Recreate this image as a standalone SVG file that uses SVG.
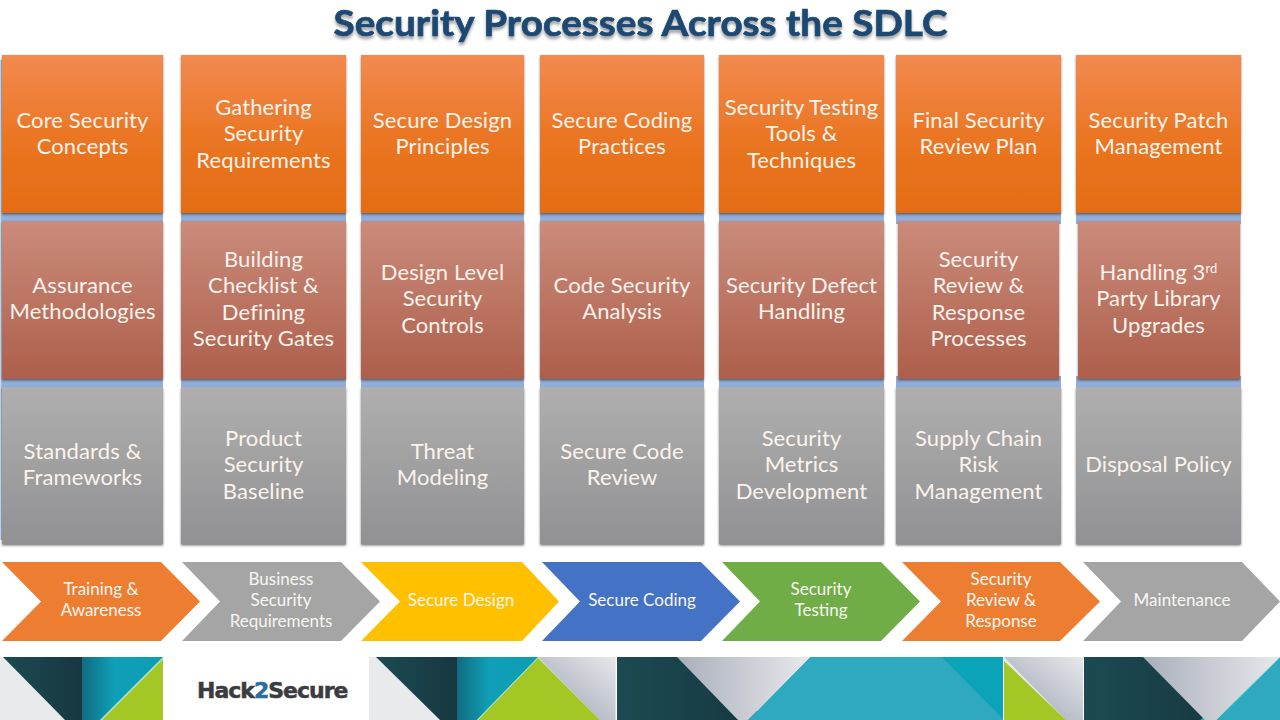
<svg xmlns="http://www.w3.org/2000/svg" width="1280" height="720" viewBox="0 0 1280 720">
<style>
text{font-family:Lato,"Open Sans",sans-serif}
.t{font-size:22px;letter-spacing:.12px;fill:#fbf3ec;text-anchor:middle}
.c{font-size:17px;fill:#f7f7f2;text-anchor:middle}
.title{font-size:36.5px;font-weight:700;fill:#1d4a73;stroke:#1d4a73;stroke-width:.7px;text-anchor:middle;filter:url(#ts)}
.o{fill:url(#go);filter:url(#bs)}.m{fill:url(#gm);filter:url(#bs)}.g{fill:url(#gg);filter:url(#bs)}
.dark{fill:url(#gd)}.teal{fill:url(#gt)}.lime{fill:#a3c724}.grey{fill:url(#gs)}.grey2{fill:url(#gs2)}.aqua{fill:#2fa9bf}.edge{stroke:#8fe0c8;stroke-width:1;fill:none}
</style>
<defs>
<linearGradient id="go" x1="0" y1="0" x2="0" y2="1"><stop offset="0" stop-color="#f28a50"/><stop offset=".55" stop-color="#ea7521"/><stop offset="1" stop-color="#e46c15"/></linearGradient>
<linearGradient id="gm" x1="0" y1="0" x2="0" y2="1"><stop offset="0" stop-color="#cb8b7b"/><stop offset="1" stop-color="#ad5f4b"/></linearGradient>
<linearGradient id="gg" x1="0" y1="0" x2="0" y2="1"><stop offset="0" stop-color="#b0afae"/><stop offset="1" stop-color="#919194"/></linearGradient>
<linearGradient id="gd" x1="0" y1="0" x2="1" y2="0"><stop offset="0" stop-color="#1c4a52"/><stop offset="1" stop-color="#173840"/></linearGradient>
<linearGradient id="gt" x1="0" y1="0" x2="1" y2="0"><stop offset="0" stop-color="#106c80"/><stop offset=".4" stop-color="#0fa0b8"/><stop offset="1" stop-color="#0d9db3"/></linearGradient>
<linearGradient id="gs" x1="0" y1="0" x2="1" y2="0"><stop offset="0" stop-color="#a9afba"/><stop offset="1" stop-color="#e8e8ec"/></linearGradient>
<linearGradient id="gs2" x1="0" y1="1" x2="1" y2="0"><stop offset=".35" stop-color="#b4b9c5"/><stop offset="1" stop-color="#e8e8ea"/></linearGradient>
<filter id="bs" x="-5%" y="-5%" width="110%" height="110%"><feDropShadow dx="0" dy="1.5" stdDeviation="1.3" flood-color="#333" flood-opacity=".65"/></filter>
<filter id="ts" x="-5%" y="-20%" width="110%" height="150%"><feDropShadow dx="0" dy="3" stdDeviation="1.5" flood-color="#555" flood-opacity=".55"/></filter>
</defs>
<rect width="1280" height="720" fill="#fff"/>
<text id="title" class="title" x="640.5" y="36" textLength="614" lengthAdjust="spacingAndGlyphs">Security Processes Across the SDLC</text>
<g id="bands" fill="#8fb0dc">
<rect x="0.5" y="60" width="2" height="480" fill="#9db6d4"/>
<rect x="2" y="210" width="161" height="14"/><rect x="181" y="210" width="165" height="14"/><rect x="361" y="210" width="163" height="14"/><rect x="540" y="210" width="164" height="14"/><rect x="719" y="210" width="165" height="14"/><rect x="896" y="210" width="165" height="14"/><rect x="1076" y="210" width="165" height="14"/>
<rect x="2" y="376" width="161" height="14"/><rect x="181" y="376" width="165" height="14"/><rect x="361" y="376" width="163" height="14"/><rect x="540" y="376" width="164" height="14"/><rect x="719" y="376" width="165" height="14"/><rect x="896" y="376" width="165" height="14"/><rect x="1076" y="376" width="165" height="14"/>
</g>
<g id="col1-top"><rect class="o" x="2" y="55" width="161" height="158"/><text class="t" x="82.500" y="128">Core Security</text><text class="t" x="82.500" y="154">Concepts</text></g>
<g id="col2-top"><rect class="o" x="181" y="55" width="165" height="158"/><text class="t" x="263.500" y="115">Gathering</text><text class="t" x="263.500" y="141">Security</text><text class="t" x="263.500" y="168">Requirements</text></g>
<g id="col3-top"><rect class="o" x="361" y="55" width="163" height="158"/><text class="t" x="442.500" y="128">Secure Design</text><text class="t" x="442.500" y="154">Principles</text></g>
<g id="col4-top"><rect class="o" x="540" y="55" width="164" height="158"/><text class="t" x="622" y="128">Secure Coding</text><text class="t" x="622" y="154">Practices</text></g>
<g id="col5-top"><rect class="o" x="719" y="55" width="165" height="158"/><text class="t" x="801.500" y="115">Security Testing</text><text class="t" x="801.500" y="141">Tools &amp;</text><text class="t" x="801.500" y="168">Techniques</text></g>
<g id="col6-top"><rect class="o" x="896" y="55" width="165" height="158"/><text class="t" x="978.500" y="128">Final Security</text><text class="t" x="978.500" y="154">Review Plan</text></g>
<g id="col7-top"><rect class="o" x="1076" y="55" width="165" height="158"/><text class="t" x="1158.500" y="128">Security Patch</text><text class="t" x="1158.500" y="154">Management</text></g>

<g id="col1-mid"><rect class="m" x="2" y="221" width="161" height="158"/><text class="t" x="82.500" y="293">Assurance</text><text class="t" x="82.500" y="319">Methodologies</text></g>
<g id="col2-mid"><rect class="m" x="181" y="221" width="165" height="158"/><text class="t" x="263.500" y="267">Building</text><text class="t" x="263.500" y="293">Checklist &amp;</text><text class="t" x="263.500" y="320">Defining</text><text class="t" x="263.500" y="346">Security Gates</text></g>
<g id="col3-mid"><rect class="m" x="361" y="221" width="163" height="158"/><text class="t" x="442.500" y="280">Design Level</text><text class="t" x="442.500" y="306">Security</text><text class="t" x="442.500" y="333">Controls</text></g>
<g id="col4-mid"><rect class="m" x="540" y="221" width="164" height="158"/><text class="t" x="622" y="293">Code Security</text><text class="t" x="622" y="319">Analysis</text></g>
<g id="col5-mid"><rect class="m" x="719" y="221" width="165" height="158"/><text class="t" x="801.500" y="293">Security Defect</text><text class="t" x="801.500" y="319">Handling</text></g>
<g id="col6-mid"><rect class="m" x="898" y="221" width="161" height="158"/><text class="t" x="978.500" y="267">Security</text><text class="t" x="978.500" y="293">Review &amp;</text><text class="t" x="978.500" y="320">Response</text><text class="t" x="978.500" y="346">Processes</text></g>
<g id="col7-mid"><rect class="m" x="1078" y="221" width="162" height="158"/><text class="t" x="1158.500" y="280">Handling 3<tspan font-size="13" dy="-7">rd</tspan></text><text class="t" x="1158.500" y="306">Party Library</text><text class="t" x="1158.500" y="333">Upgrades</text></g>

<g id="col1-low"><rect class="g" x="2" y="387" width="161" height="157"/><text class="t" x="82.500" y="459">Standards &amp;</text><text class="t" x="82.500" y="485">Frameworks</text></g>
<g id="col2-low"><rect class="g" x="181" y="387" width="165" height="157"/><text class="t" x="263.500" y="446">Product</text><text class="t" x="263.500" y="472">Security</text><text class="t" x="263.500" y="499">Baseline</text></g>
<g id="col3-low"><rect class="g" x="361" y="387" width="163" height="157"/><text class="t" x="442.500" y="459">Threat</text><text class="t" x="442.500" y="485">Modeling</text></g>
<g id="col4-low"><rect class="g" x="540" y="387" width="164" height="157"/><text class="t" x="622" y="459">Secure Code</text><text class="t" x="622" y="485">Review</text></g>
<g id="col5-low"><rect class="g" x="719" y="387" width="165" height="157"/><text class="t" x="801.500" y="446">Security</text><text class="t" x="801.500" y="472">Metrics</text><text class="t" x="801.500" y="499">Development</text></g>
<g id="col6-low"><rect class="g" x="896" y="387" width="165" height="157"/><text class="t" x="978.500" y="446">Supply Chain</text><text class="t" x="978.500" y="472">Risk</text><text class="t" x="978.500" y="499">Management</text></g>
<g id="col7-low"><rect class="g" x="1076" y="387" width="165" height="157"/><text class="t" x="1158.500" y="472">Disposal Policy</text></g>

<g id="phase1"><polygon fill="#ed7d31" points="2,562 161,562 200,601.5 161,641 2,641 41,601.5"/><text class="c" x="101" y="595">Training &amp;</text><text class="c" x="101" y="616">Awareness</text></g>
<g id="phase2"><polygon fill="#a5a5a5" points="182,562 341,562 380,601.5 341,641 182,641 220,601.5"/><text class="c" x="281" y="585">Business</text><text class="c" x="281" y="606">Security</text><text class="c" x="281" y="627">Requirements</text></g>
<g id="phase3"><polygon fill="#ffc000" points="361,562 522,562 559,601.5 522,641 361,641 400,601.5"/><text class="c" x="461" y="606">Secure Design</text></g>
<g id="phase4"><polygon fill="#4472c4" points="542,562 701,562 740,601.5 701,641 542,641 580,601.5"/><text class="c" x="642" y="606">Secure Coding</text></g>
<g id="phase5"><polygon fill="#70ad47" points="722,562 881,562 920,601.5 881,641 722,641 760,601.5"/><text class="c" x="821" y="595">Security</text><text class="c" x="821" y="616">Testing</text></g>
<g id="phase6"><polygon fill="#ed7d31" points="902,562 1060,562 1100,601.5 1060,641 902,641 941,601.5"/><text class="c" x="1001" y="585">Security</text><text class="c" x="1001" y="606">Review &amp;</text><text class="c" x="1001" y="627">Response</text></g>
<g id="phase7"><polygon fill="#a5a5a5" points="1083,562 1242,562 1280,601.5 1242,641 1083,641 1121,601.5"/><text class="c" x="1182" y="606">Maintenance</text></g>

<g id="banner">
<rect x="0" y="657" width="163" height="63" fill="#e8eaec"/>
<polygon class="dark" points="3,657 82,657 82,720 65,720"/>
<polygon class="teal" points="82,657 163,657 100,720 82,720"/>
<polygon class="lime" points="163,659 163,720 102,720"/>
<path class="edge" d="M163,658 L101,720"/>
<rect x="369" y="657" width="246.500" height="63" fill="#e8eaec"/>
<polygon class="dark" points="376,657 457,657 457,720 440,720"/>
<polygon class="teal" points="457,657 538,657 477,720 457,720"/>
<polygon class="grey2" points="538,657 615.500,657 615.500,720 600,720"/>
<polygon class="lime" points="538,658 600,720 478,720"/>
<path class="edge" d="M538,658 L477,720"/>
<rect x="617" y="657" width="140" height="63" class="dark"/>
<polygon class="aqua" points="810,657 1003,657 1003,720 748,720"/>
<polygon class="grey" points="677,657 810,657 748,720 738,720"/>
<polygon fill="#0ba3b8" points="942,657 1003,657 1003,719"/>
<rect x="1004" y="657" width="79" height="63" fill="#e8e8ea"/>
<polygon class="grey2" points="1004,657 1083,657 1083,720 1066,720"/>
<polygon class="lime" points="1004,661 1004,720 1066,720"/>
<rect x="1084" y="657" width="135" height="63" class="dark"/>
<polygon class="aqua" points="1200,720 1280,657 1280,720"/>
<polygon class="grey" points="1143,657 1280,657 1216,720 1205,720"/>
<path class="edge" d="M1280,657 L1216,720"/>
</g>
<g id="logo"><text x="197" y="698" font-size="22" letter-spacing="-1" font-weight="700" fill="#3a3c40" stroke="#3a3c40" stroke-width=".5" style="font-family:'DejaVu Sans',sans-serif">Hack<tspan fill="#2a6ea0" stroke="#2a6ea0">2</tspan>Secure</text></g>
</svg>
